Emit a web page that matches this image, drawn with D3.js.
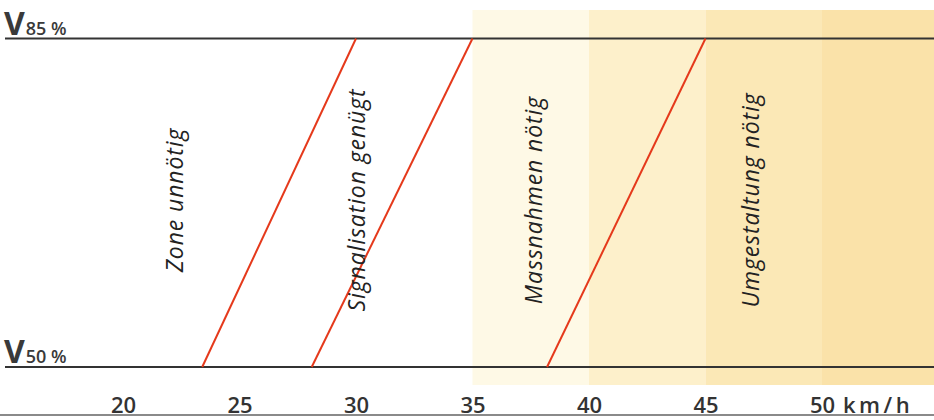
<!DOCTYPE html>
<html><head><meta charset="utf-8">
<script src="https://cdn.jsdelivr.net/npm/d3@7"></script>
<style>html,body{margin:0;padding:0;background:#fff;}svg{display:block;}</style>
</head><body>
<svg id="c" width="934" height="420"></svg>
<script>
// ---- data ----
const tickValues = [20, 25, 30, 35, 40, 45, 50];
const unitLabel = "km/h";
const levels = ["V85", "V50"];
const levelSubs = ["85 %", "50 %"];
// boundary lines: speed at V85 level and at V50 level
const boundaryV85 = [30, 35, 45];
const boundaryV50 = [23.4, 28.1, 38.2];
const zoneNames = ["Zone unnötig", "Signalisation genügt", "Massnahmen nötig", "Umgestaltung nötig"];
const zoneLabelSpeed = [22.2, 30.0, 37.6, 46.9];
const bandFrom = [35, 40, 45, 50];
const bandTo = [40, 45, 50, 55];
const bandColors = ["#fef9e6", "#fdf0cb", "#fbe8b6", "#fae2a9"];

// ---- scales ----
const svg = d3.select("#c");
const x = d3.scaleLinear().domain([20, 50]).range([123, 822]);
const y = d3.scalePoint().domain(levels).range([38.5, 367]);
const W = 934;

// bands
svg.append("g").selectAll("rect").data(bandFrom).join("rect")
  .attr("x", d => x(d))
  .attr("width", (d, i) => Math.min(x(bandTo[i]), W) - x(d))
  .attr("y", 10).attr("height", 375)
  .attr("fill", (d, i) => bandColors[i]);

// horizontal level lines
svg.append("g").selectAll("line").data(levels).join("line")
  .attr("x1", 5).attr("x2", W)
  .attr("y1", d => y(d)).attr("y2", d => y(d))
  .attr("stroke", "#333").attr("stroke-width", 2);

// level labels
const lg = svg.append("g").selectAll("text").data(levels).join("text")
  .attr("x", 4).attr("y", d => y(d) - 4)
  .attr("fill", "#3a3a3a")
  .style("font-family", "'Open Sans', sans-serif");
lg.append("tspan").text("V").style("font-size", "32px").style("font-weight", 700);
lg.append("tspan").text((d, i) => levelSubs[i]).attr("dx", 1)
  .style("font-size", "18px").style("font-weight", 600);

// red boundary lines
svg.append("g").selectAll("line").data(boundaryV85).join("line")
  .attr("x1", (d, i) => x(boundaryV50[i])).attr("y1", y("V50"))
  .attr("x2", d => x(d)).attr("y2", y("V85"))
  .attr("stroke", "#e5391b").attr("stroke-width", 2);

// zone labels
svg.append("g").selectAll("text").data(zoneNames).join("text")
  .attr("transform", (d, i) => `translate(${x(zoneLabelSpeed[i])},200) rotate(-90)`)
  .attr("text-anchor", "middle").attr("dominant-baseline", "central")
  .style("font-family", "'Open Sans', sans-serif")
  .style("font-style", "italic").style("font-size", "23px")
  .style("letter-spacing", "0.9px")
  .attr("fill", "#222")
  .text(d => d);

// bottom axis
const axis = d3.axisBottom(x).tickValues(tickValues).tickSize(0).tickPadding(0);
const ag = svg.append("g").attr("transform", "translate(0,413)").call(axis);
ag.select(".domain").remove();
ag.selectAll("text")
  .attr("y", 0).attr("dy", 0)
  .style("font-family", "'Open Sans', sans-serif")
  .style("font-size", "22px").style("font-weight", 600)
  .attr("fill", "#333");
svg.append("text").attr("x", 843).attr("y", 413)
  .style("font-family", "'Open Sans', sans-serif")
  .style("font-size", "22px").style("font-weight", 600)
  .style("letter-spacing", "3.5px")
  .attr("fill", "#333").text(unitLabel);
svg.append("line").attr("x1", 0).attr("x2", W).attr("y1", 415).attr("y2", 415)
  .attr("stroke", "#8a8a8a").attr("stroke-width", 2);
</script>
</body></html>
